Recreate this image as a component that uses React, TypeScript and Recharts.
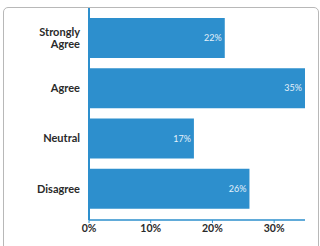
import { BarChart, Bar, XAxis, YAxis, LabelList } from 'recharts';

const categories = ['Strongly Agree', 'Agree', 'Neutral', 'Disagree'];
const shares = [22, 35, 17, 26];
const xTicks = [0, 10, 20, 30];

const data = categories.map((name, i) => ({ name, value: shares[i] }));

const BLUE = '#2d8fcd';
const FONT = 'Lato, "Open Sans", "DejaVu Sans", sans-serif';

// category label, split on the space for the two-word one
const CategoryTick = ({ x, y, payload }: { x?: number; y?: number; payload?: { value: string } }) => {
  const text = payload?.value ?? '';
  const lines = text === 'Strongly Agree' ? ['Strongly', 'Agree'] : [text];
  const lh = 12.5;
  const startY = (y ?? 0) - ((lines.length - 1) * lh) / 2;
  const tx = (x ?? 0) - 1;
  return (
    <text x={tx} y={startY} textAnchor="end" fill="#2a2a2a" fontFamily={FONT} fontSize={11} fontWeight={700}>
      {lines.map((l, i) => (
        <tspan key={l} x={tx} y={startY + i * lh} dy="0.35em">
          {l}
        </tspan>
      ))}
    </text>
  );
};

export default function App() {
  return (
    <div style={{ position: 'absolute', left: 0, top: 0, width: 320, height: 246, background: '#fff', overflow: 'hidden' }}>
      <BarChart
        layout="vertical"
        width={320}
        height={246}
        data={data}
        margin={{ top: 8, right: 15, bottom: 6, left: 0 }}
      >
        <XAxis
          type="number"
          domain={[0, 35]}
          ticks={xTicks}
          tickFormatter={(v: number) => `${v}%`}
          axisLine={{ stroke: BLUE, strokeWidth: 1.5 }}
          tickLine={{ stroke: BLUE }}
          tickSize={3}
          height={20}
          tick={{ fill: '#2a2a2a', fontSize: 10.5, fontFamily: FONT, fontWeight: 700 }}
        />
        <YAxis
          type="category"
          dataKey="name"
          width={89}
          axisLine={{ stroke: BLUE, strokeWidth: 2 }}
          tickLine={false}
          padding={{ top: 5, bottom: 6 }}
          tick={<CategoryTick />}
        />
        <Bar dataKey="value" fill={BLUE} barSize={40} isAnimationActive={false}>
          <LabelList
            dataKey="value"
            position="insideRight"
            offset={3}
            formatter={(v: number) => `${v}%`}
            fill="#e4f1fb"
            fontSize={9}
            fontFamily={FONT}
          />
        </Bar>
      </BarChart>
      <div
        style={{
          position: 'absolute',
          left: 3,
          top: 7,
          width: 314,
          height: 250,
          border: '1px solid #b8b8b8',
          borderRadius: 5,
          pointerEvents: 'none',
          zIndex: 2,
        }}
      />
    </div>
  );
}
